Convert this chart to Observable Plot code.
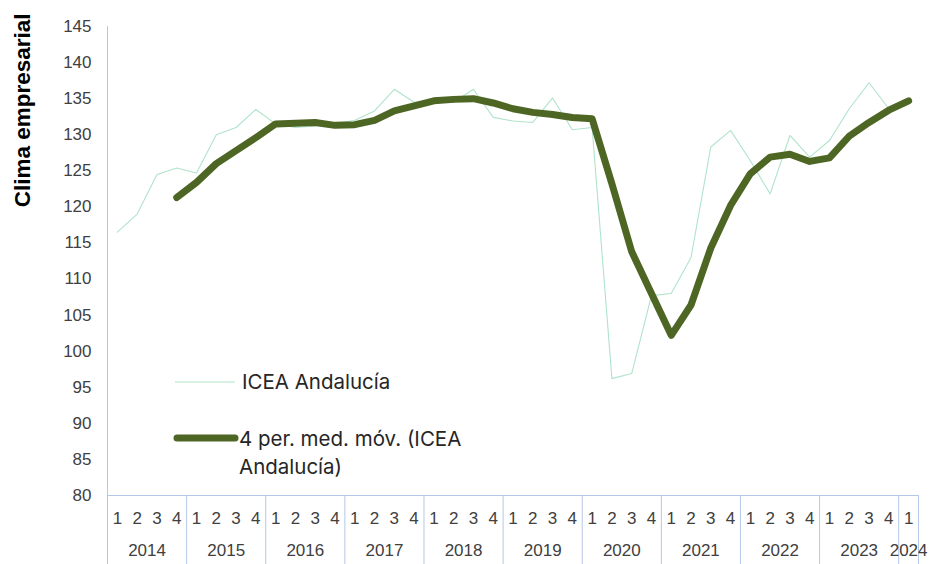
<!DOCTYPE html>
<html><head><meta charset="utf-8">
<script src="https://cdn.jsdelivr.net/npm/d3@7"></script>
<script src="https://cdn.jsdelivr.net/npm/@observablehq/plot@0.6"></script>
<style>
body{margin:0;background:#fff;}
#wrap{position:relative;width:929px;height:564px;overflow:hidden;}
.lg{position:absolute;font-family:Inter,"Noto Sans",sans-serif;font-size:20.5px;color:#262626;line-height:28px;white-space:nowrap;}
.lg svg{position:absolute;}
</style></head><body><div id="wrap"></div>
<script>
const years = ["2014","2015","2016","2017","2018","2019","2020","2021","2022","2023","2024"];
const quartersPerYear = [4,4,4,4,4,4,4,4,4,4,1];
const quarterLabels = ["1","2","3","4"];
const icea = [116.5,119.0,124.5,125.4,124.7,130.0,131.0,133.5,131.5,131.0,131.2,131.5,132.0,133.3,136.3,134.5,134.7,134.5,136.3,132.4,131.9,131.7,135.1,130.7,131.0,96.2,96.9,107.7,108.0,113.0,128.3,130.6,126.4,121.8,129.9,126.9,129.2,133.6,137.2,133.6,134.4];
const mediaMovil = [null,null,null,121.3,123.4,126.0,127.8,129.6,131.5,131.6,131.7,131.3,131.4,132.0,133.3,134.0,134.7,134.9,135.0,134.4,133.6,133.1,132.8,132.4,132.2,123.2,113.8,108.0,102.2,106.4,114.3,120.2,124.6,126.9,127.3,126.3,126.8,129.8,131.7,133.4,134.7];
const yTicks = [80,85,90,95,100,105,110,115,120,125,130,135,140,145];
const legendLines = [["ICEA Andalucía"],["4 per. med. móv. (ICEA","Andalucía)"]];
const yTitle = "Clima empresarial";

// table
const rows = [];
const boundaries = [-0.5];
const yearCenters = new Map();
let idx = 0;
years.forEach((yr, k) => {
  const n = quartersPerYear[k];
  yearCenters.set(idx + (n - 1) / 2, yr);
  for (let q = 0; q < n; q++) {
    rows.push({i: idx, year: yr, q: quarterLabels[q], icea: icea[idx], mm: mediaMovil[idx]});
    idx++;
  }
  boundaries.push(idx - 0.5);
});
const qMap = new Map(rows.map(d => [d.i, d.q]));

const axisColor = "#b4c7e7";
const thinColor = "#b0e3cb";
const thickColor = "#4e6624";
const chart = Plot.plot({
  width: 929, height: 564,
  marginLeft: 107, marginRight: 11, marginTop: 26, marginBottom: 69,
  x: {type: "linear", domain: [-0.5, rows.length - 0.5], axis: null},
  y: {domain: [80, 145], axis: null},
  style: {fontFamily: "'Liberation Sans', Arial, sans-serif", fontSize: "17px", color: "#404040", background: "white", overflow: "visible"},
  marks: [
    Plot.axisY(yTicks, {tickSize: 0, tickPadding: 16, label: null, fontSize: 17}),
    Plot.axisX(boundaries, {tickSize: 69, tickFormat: () => "", stroke: axisColor, label: null}),
    Plot.axisX(rows.map(d => d.i), {tickSize: 0, tickPadding: 16, tickFormat: d => qMap.get(d), label: null, fontSize: 17}),
    Plot.axisX([...yearCenters.keys()], {tickSize: 0, tickPadding: 48, tickFormat: d => yearCenters.get(d), label: null, fontSize: 17}),
    Plot.ruleX([-0.5], {stroke: axisColor}),
    Plot.ruleY([80], {stroke: axisColor}),
    Plot.lineY(rows, {x: "i", y: "icea", stroke: thinColor, strokeWidth: 1.1}),
    Plot.lineY(rows.filter(d => d.mm != null), {x: "i", y: "mm", stroke: thickColor, strokeWidth: 7, strokeLinejoin: "round", strokeLinecap: "round"}),
    Plot.text([yTitle], {frameAnchor: "top-left", rotate: -90, textAnchor: "end", dx: -93, dy: -13, fontWeight: "bold", fontSize: 22.5, fill: "black"})
  ]
});
const wrap = document.getElementById("wrap");
wrap.appendChild(chart);

// legend overlay (inside plot area)
const lg1 = document.createElement("div");
lg1.className = "lg";
lg1.style.left = "175px"; lg1.style.top = "368px";
lg1.innerHTML = `<svg width="60" height="28" style="left:0;top:0"><line x1="0" x2="60" y1="14" y2="14" stroke="${thinColor}" stroke-width="1.2"/></svg><span style="position:absolute;left:67px;top:0">${legendLines[0].join("<br>")}</span>`;
wrap.appendChild(lg1);
const lg2 = document.createElement("div");
lg2.className = "lg";
lg2.style.left = "173px"; lg2.style.top = "425px";
lg2.innerHTML = `<svg width="66" height="28" style="left:0;top:0"><line x1="4" x2="62" y1="13" y2="13" stroke="${thickColor}" stroke-width="7" stroke-linecap="round"/></svg><span style="position:absolute;left:66px;top:0">${legendLines[1].join("<br>")}</span>`;
wrap.appendChild(lg2);
</script>
</body></html>
